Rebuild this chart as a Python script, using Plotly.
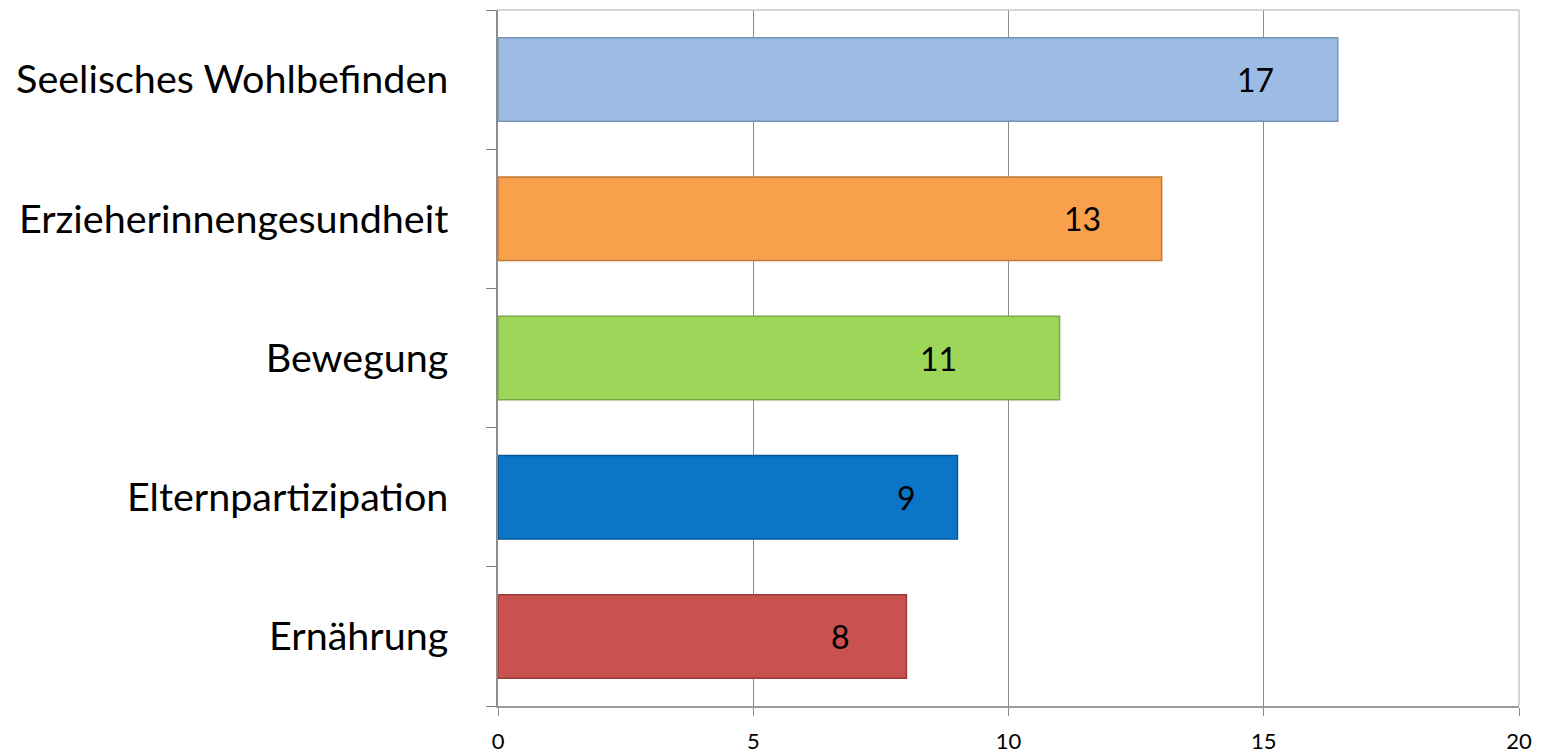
import plotly.graph_objects as go

categories = ["Ernährung", "Elternpartizipation", "Bewegung", "Erzieherinnengesundheit", "Seelisches Wohlbefinden"]
values = [8, 9, 11, 13, 16.45]
value_labels = ["8", "9", "11", "13", "17"]
bar_colors = ["#C9514F", "#0B75C7", "#9DD75A", "#F9A04C", "#9DBCE3"]
line_colors = ["#9A3B39", "#08589A", "#78A944", "#C27A36", "#7893B8"]
label_shift = [-66, -51, -121, -79, -82]
x_ticks = [0, 5, 10, 15, 20]

FONT = "Lato"

fig = go.Figure()
fig.add_trace(go.Bar(
    y=categories, x=values, orientation="h",
    marker=dict(color=bar_colors, line=dict(color=line_colors, width=1.5)),
    width=0.6, hoverinfo="skip",
))

for cat, v, lab, s in zip(categories, values, value_labels, label_shift):
    fig.add_annotation(x=v, y=cat, text=lab, showarrow=False, xshift=s,
                       font=dict(family=FONT, size=32, color="#000000"))

fig.update_layout(
    width=1541, height=753,
    margin=dict(l=498, r=22, t=10, b=47, autoexpand=False),
    paper_bgcolor="white", plot_bgcolor="white",
    showlegend=False,
    xaxis=dict(range=[0, 20], tickvals=x_ticks, ticks="outside", ticklen=8,
               tickcolor="#8C8C8C", showgrid=True, gridcolor="#8C8C8C", gridwidth=1,
               showline=True, linecolor="#9A9A9A", linewidth=1.5, zeroline=False,
               automargin=False,
               tickfont=dict(family=FONT, size=22, color="#000000"), ticklabelstandoff=7),
    yaxis=dict(type="category", categoryorder="array", categoryarray=categories,
               tickson="boundaries", ticks="outside", ticklen=10, tickcolor="#7F7F7F",
               showline=True, linecolor="#8C8C8C", linewidth=1.5, showgrid=False,
               automargin=False,
               tickfont=dict(family=FONT, size=39.5, color="#000000"), ticklabelstandoff=40),
)

# light plot-area border on top and right
fig.add_shape(type="line", xref="paper", yref="paper", x0=0, x1=1, y0=1, y1=1,
              line=dict(color="#C8C8C8", width=1.5))
fig.add_shape(type="line", xref="paper", yref="paper", x0=1, x1=1, y0=0, y1=1,
              line=dict(color="#C8C8C8", width=1.5))

fig.write_html("out.html")
